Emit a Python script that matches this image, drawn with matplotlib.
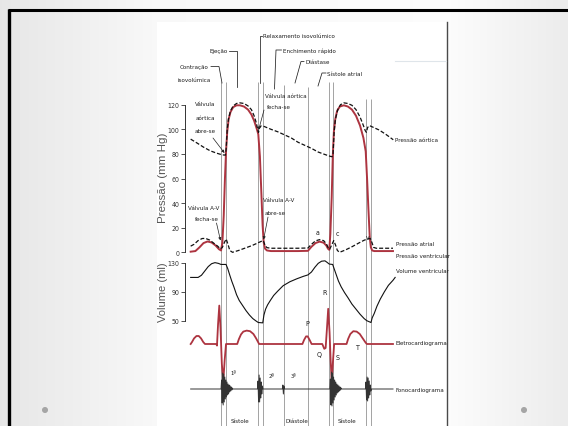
import numpy as np
import matplotlib
matplotlib.use("Agg")
import matplotlib.pyplot as plt
from matplotlib.patches import Rectangle, Circle
from matplotlib import font_manager as fm
from matplotlib.textpath import TextPath

# ---------------- data (time in seconds) ----------------
# ventricular pressure (mm Hg)
vp_t = [0.005, 0.040, 0.070, 0.100, 0.130, 0.160, 0.190, 0.215, 0.230, 0.240, 0.250, 0.259, 0.267,
        0.276, 0.286, 0.300, 0.320, 0.345, 0.370, 0.400, 0.430, 0.455, 0.475, 0.493, 0.506, 0.518,
        0.530, 0.538, 0.546, 0.556, 0.570, 0.600, 0.700, 0.800, 0.874, 0.900, 0.930, 0.960, 0.990,
        1.010, 1.022, 1.032, 1.040, 1.050, 1.058, 1.066, 1.076, 1.090, 1.110, 1.140, 1.170, 1.200,
        1.230, 1.260, 1.285, 1.302, 1.312, 1.322, 1.332, 1.340, 1.350, 1.365, 1.504]
vp_p = [0.5, 1, 4, 7.5, 8.8, 8, 5.5, 2.5, 1.5, 8, 30, 60, 82,
        98, 108, 114, 118, 119.5, 119.5, 118.5, 116, 112, 107, 101, 96, 78,
        45, 22, 8, 3, 1.5, 1, 1, 1, 1.2, 4.5, 7.5, 8.7, 7.8,
        5.5, 3, 2, 15, 45, 78, 98, 108, 115, 118.5, 119.5, 118.5, 116,
        111, 103, 93, 82, 60, 35, 12, 4, 1.5, 1, 1]

# aortic pressure (mm Hg)
ao_t = [0.005, 0.050, 0.100, 0.150, 0.200, 0.240, 0.262, 0.268, 0.276, 0.286, 0.300, 0.320, 0.345,
        0.370, 0.400, 0.430, 0.455, 0.475, 0.492, 0.503, 0.508, 0.515, 0.525, 0.545, 0.600, 0.650,
        0.700, 0.750, 0.800, 0.850, 0.900, 0.950, 1.000, 1.040, 1.052, 1.060, 1.068, 1.078, 1.095,
        1.115, 1.140, 1.170, 1.200, 1.230, 1.260, 1.285, 1.298, 1.307, 1.316, 1.330, 1.350, 1.400,
        1.450, 1.506]
ao_p = [92, 89, 85.5, 82.5, 80.5, 79.2, 79, 84, 100, 109, 115, 119, 121,
        121.5, 121, 119, 116, 111, 105, 99, 97.5, 101.5, 102.7, 102.5, 100, 98,
        95.5, 93, 89.5, 87, 84.5, 81.5, 79.5, 78, 77.7, 80, 98, 108.5, 116,
        120, 121.5, 121, 119.5, 116, 110, 103, 99, 97.5, 101.5, 103, 102, 99.5,
        96, 91.5]

# atrial pressure (mm Hg)
at_t = [0.005, 0.030, 0.060, 0.090, 0.115, 0.145, 0.175, 0.205, 0.225, 0.240, 0.255, 0.268, 0.280,
        0.295, 0.315, 0.360, 0.410, 0.460, 0.500, 0.530, 0.543, 0.555, 0.570, 0.600, 0.700, 0.800,
        0.874, 0.900, 0.930, 0.960, 0.990, 1.010, 1.025, 1.035, 1.050, 1.065, 1.078, 1.092, 1.108,
        1.150, 1.200, 1.250, 1.290, 1.320, 1.335, 1.348, 1.360, 1.380, 1.504]
at_p = [5, 6.5, 9.5, 11.2, 11.3, 10, 7.5, 5, 2.8, 4, 8, 10.8, 7,
        1.5, 0, 1.5, 3.5, 5.5, 7.5, 9, 9.5, 6, 3.8, 3.3, 3.3, 3.3,
        3.5, 6.5, 9.3, 10.3, 9.5, 7, 3.5, 2.5, 6, 9.5, 6, 1.5, 0,
        1.8, 4.5, 7.5, 9.8, 11, 11.3, 8, 4, 3.3, 3.3]

# ventricular volume (ml)
vol_t = [0.005, 0.060, 0.085, 0.110, 0.135, 0.160, 0.185, 0.210, 0.230, 0.267, 0.280, 0.295, 0.310,
         0.325, 0.345, 0.365, 0.390, 0.415, 0.440, 0.465, 0.490, 0.506, 0.539, 0.548, 0.560, 0.575,
         0.595, 0.620, 0.650, 0.690, 0.740, 0.790, 0.840, 0.874, 0.900, 0.925, 0.950, 0.975, 1.000,
         1.015, 1.032, 1.057, 1.070, 1.085, 1.100, 1.120, 1.145, 1.170, 1.200, 1.230, 1.260, 1.290,
         1.310, 1.341, 1.350, 1.365, 1.385, 1.410, 1.440, 1.470, 1.504, 1.520]
vol_v = [110, 110, 113, 119, 125, 129, 130.5, 129.5, 128, 128, 122, 113, 104.5,
         97, 86, 78, 71, 64, 58, 53, 49.5, 47.5, 47, 58, 66, 72,
         78, 85, 91, 98.5, 104, 108, 111.5, 113.5, 117.5, 124, 129.5, 132.5, 133,
         131, 128.5, 128, 121, 113, 105, 97, 89, 82, 73, 66, 59, 53,
         50, 47.5, 54, 60, 70, 80, 90, 99, 106, 110]

# electrocardiogram (mV)
ecg_t = [0.005, 0.015, 0.030, 0.048, 0.065, 0.082, 0.098, 0.111, 0.195, 0.200, 0.208, 0.217, 0.226,
         0.236, 0.247, 0.257, 0.267, 0.350, 0.362, 0.378, 0.395, 0.420, 0.445, 0.470, 0.490, 0.512,
         0.833, 0.845, 0.860, 0.872, 0.888, 0.901, 0.980, 0.995, 1.005, 1.014, 1.024, 1.034, 1.042,
         1.050, 1.059, 1.068, 1.160, 1.172, 1.188, 1.210, 1.235, 1.258, 1.280, 1.300, 1.310, 1.504]
ecg_mv = [0, 0.05, 0.14, 0.2, 0.2, 0.14, 0.05, 0, 0, -0.04, 0.5, 0.96, 0.4,
          -0.5, -0.92, -0.4, 0, 0, 0.12, 0.24, 0.31, 0.335, 0.32, 0.25, 0.14, 0,
          0, 0.1, 0.19, 0.19, 0.09, 0, 0, -0.12, -0.1, 0.35, 0.88, 0.3, -0.4,
          -0.96, -0.45, 0, 0, 0.13, 0.25, 0.32, 0.31, 0.25, 0.14, 0.04, 0, 0]

# phonocardiogram (arbitrary units): heart sounds
s1a_t = [0.230, 0.234, 0.238, 0.242, 0.246, 0.250, 0.254, 0.258, 0.262, 0.266, 0.270, 0.274, 0.278,
         0.282, 0.286, 0.290, 0.294, 0.298, 0.302, 0.306, 0.310, 0.314, 0.318]
s1a_a = [0, 9, -14, 16, -16, 15, -13, 12, -10, 9, -8, 7, -6, 5, -5, 4, -3, 3, -2, 2, -1, 1, 0]
s2a_t = [0.500, 0.504, 0.508, 0.512, 0.516, 0.520, 0.524, 0.528, 0.532, 0.536, 0.540]
s2a_a = [0, 8, -13, 14, -13, 11, -9, 7, -5, 3, 0]
s3a_t = [0.684, 0.688, 0.692, 0.696, 0.700]
s3a_a = [0, 4, -5, 3, 0]
s1b_t = [1.036, 1.040, 1.044, 1.048, 1.052, 1.056, 1.060, 1.064, 1.068, 1.072, 1.076, 1.080, 1.084,
         1.088, 1.092, 1.096, 1.100, 1.104, 1.108, 1.112, 1.116, 1.120, 1.124]
s1b_a = [0, 10, -16, 17, -17, 16, -14, 12, -11, 9, -8, 7, -6, 5, -4, 4, -3, 3, -2, 2, -1, 1, 0]
s2b_t = [1.300, 1.304, 1.308, 1.312, 1.316, 1.320, 1.324, 1.328, 1.332, 1.336, 1.340, 1.344]
s2b_a = [0, 7, -11, 12, -12, 11, -9, 8, -6, 4, -2, 0]
phono_start, phono_end = 0.005, 1.504

# cycle event lines (s)
event_t = [0.230, 0.267, 0.506, 0.539, 0.698, 0.874, 1.032, 1.057, 1.302, 1.341]

pressure_ticks = [0, 20, 40, 60, 80, 100, 120]
volume_ticks = [50, 90, 130]

# ---------------- fonts ----------------
_names = {f.name for f in fm.fontManager.ttflist}
_dv_cond = any(f.name == 'DejaVu Sans' and 'condensed' in str(f.stretch) for f in fm.fontManager.ttflist)
if 'Liberation Sans Narrow' in _names:
    FAM, STR = 'Liberation Sans Narrow', 'normal'
elif _dv_cond:
    FAM, STR = 'DejaVu Sans', 'condensed'
else:
    FAM, STR = 'Liberation Sans', 'normal'
plt.rcParams['font.family'] = [FAM, 'DejaVu Sans']
plt.rcParams['font.stretch'] = STR
_fp = fm.FontProperties(family=[FAM, 'DejaVu Sans'], stretch=STR)


def size_for(s, px, prop=_fp):
    w = TextPath((0, 0), s, size=10, prop=prop).get_extents().width
    return 10 * px / (w * 100 / 72)


FS = min(5.4, size_for('Relaxamento isovolúmico', 71))
TS = min(5.8, size_for('120', 11))
_fp_reg = fm.FontProperties(family=['Liberation Sans', 'DejaVu Sans'])
AS = size_for('Pressão (mm Hg)', 88, _fp_reg)

# ---------------- layout helpers ----------------
W, H = 568, 427
fig = plt.figure(figsize=(W / 100, H / 100), dpi=100)


def box(x0, y0, x1, y1):
    return [x0 / W, 1 - y1 / H, (x1 - x0) / W, (y1 - y0) / H]


T_LIM = (-0.037, 1.556)
RED = '#ad3440'
INK = '#1e1e1e'

# ---- slide background ----
bg = fig.add_axes([0, 0, 1, 1])
grad = np.interp(np.arange(W), [0, 157, 447, 568], [0.905, 0.975, 0.99, 0.925])
img = np.dstack([np.tile(grad, (H, 1))] * 3)
bg.imshow(img, extent=[0, W, H, 0], aspect='auto', interpolation='bilinear')
bg.set_xlim(0, W); bg.set_ylim(H, 0); bg.axis('off')
bg.add_patch(Rectangle((157, 23), 290, 410, facecolor='white', edgecolor='none'))
bg.plot([447, 447], [23, 427], color='#4a4a4a', lw=1.0)
bg.plot([395, 446], [62, 62], color='#dfe5ea', lw=0.8)
bg.plot([8, 568], [11, 11], color='black', lw=2.2, solid_capstyle='butt')
bg.plot([9, 9], [10, 427], color='black', lw=2.4, solid_capstyle='butt')
bg.add_patch(Circle((45, 411), 2.3, color='#a5a5a5'))
bg.add_patch(Circle((524, 411), 2.3, color='#a5a5a5'))

# ---- event lines ----
event_top = [83, 83, 83, 83, 86, 88, 83, 83, 100, 100]
ev = fig.add_axes(box(185, 0, 400, 427))
ev.patch.set_visible(False)
ev.set_xlim(*T_LIM); ev.set_ylim(427, 0); ev.axis('off')
ev.vlines(event_t, event_top, 427, color='#8a8a8a', lw=0.55)


def style_axis(ax, ticks):
    ax.patch.set_visible(False)
    for s in ['top', 'right', 'bottom']:
        ax.spines[s].set_visible(False)
    ax.spines['left'].set_color('#333333')
    ax.spines['left'].set_linewidth(0.7)
    ax.set_xticks([])
    ax.set_yticks(ticks)
    ax.tick_params(axis='y', direction='out', length=3, width=0.6, pad=1,
                   labelsize=TS, colors='#333333')


# ---- pressure ----
ap = fig.add_axes(box(185, 105.7, 400, 253.3))
ap.set_xlim(*T_LIM); ap.set_ylim(0, 120)
style_axis(ap, pressure_ticks)
ap.plot(vp_t, vp_p, color=RED, lw=1.4, clip_on=False, solid_joinstyle='round', zorder=3)
ap.plot(ao_t, ao_p, color='#111111', lw=0.9, ls=(0, (3.2, 1.6)), clip_on=False, zorder=4)
ap.plot(at_t, at_p, color='#111111', lw=0.9, ls=(0, (3.2, 1.6)), clip_on=False, zorder=4)

# ---- volume ----
av = fig.add_axes(box(185, 264, 400, 321.7))
av.set_xlim(*T_LIM); av.set_ylim(50, 130)
style_axis(av, volume_ticks)
av.plot(vol_t, vol_v, color='#111111', lw=0.8, clip_on=False)

# ---- ECG ----
ae = fig.add_axes(box(185, 305, 400, 385))
ae.patch.set_visible(False)
ae.set_xlim(*T_LIM); ae.set_ylim(-1, 1); ae.axis('off')
ae.plot(ecg_t, ecg_mv, color=RED, lw=1.3, clip_on=False, solid_joinstyle='round')

# ---- phonocardiogram ----
af = fig.add_axes(box(185, 370, 400, 410))
af.patch.set_visible(False)
af.set_xlim(*T_LIM); af.set_ylim(-20, 20); af.axis('off')
ph_t = [phono_start] + s1a_t + s2a_t + s3a_t + s1b_t + s2b_t + [phono_end]
ph_a = [0] + s1a_a + s2a_a + s3a_a + s1b_a + s2b_a + [0]
af.plot(ph_t, ph_a, color='#333333', lw=0.7, clip_on=False)

# ---- text overlay ----
tx = fig.add_axes([0, 0, 1, 1])
tx.patch.set_visible(False)
tx.set_xlim(0, W); tx.set_ylim(H, 0); tx.axis('off')


def t(x, y, s, ha='left', fs=None, **kw):
    tx.text(x, y, s, ha=ha, va='center', fontsize=fs or FS, color=INK, **kw)


def leader(xs, ys):
    tx.plot(xs, ys, color=INK, lw=0.55)


def arrow(x0, y0, x1, y1):
    tx.annotate('', xy=(x1, y1), xytext=(x0, y0),
                arrowprops=dict(arrowstyle='-|>', lw=0.5, color=INK,
                                mutation_scale=4, shrinkA=0, shrinkB=0))


# phase labels at top
t(194, 67.5, 'Contração', ha='center')
t(194, 80, 'isovolúmica', ha='center')
leader([211, 219, 222], [67.5, 67.5, 84])
t(227.5, 51.5, 'Ejeção', ha='right')
leader([229, 236.5, 236.5], [51.5, 51.5, 88])
t(263, 37, 'Relaxamento isovolúmico')
leader([262, 260, 260], [37, 37, 84])
t(283, 51, 'Enchimento rápido')
leader([281.5, 276, 274.5], [51, 51, 90])
t(305, 62.5, 'Diástase')
leader([304, 301, 295], [62.5, 62.5, 84])
t(327, 74, 'Sístole atrial')
leader([326, 322, 318], [74, 74, 87])

# valve annotations
t(205, 105, 'Válvula', ha='center')
t(205, 118.5, 'aórtica', ha='center')
t(205, 131.5, 'abre-se', ha='center')
arrow(213, 139, 224.5, 154)
t(265, 96.5, 'Válvula aórtica')
t(267, 107.5, 'fecha-se')
arrow(264, 111, 258.6, 131)
t(204, 208.5, 'Válvula A-V', ha='center')
t(207, 220, 'fecha-se', ha='center')
arrow(216.5, 224, 220.5, 241.5)
t(263, 201, 'Válvula A-V')
t(265, 213.5, 'abre-se')
arrow(268, 218, 263.6, 240.5)
t(318, 233.5, 'a', ha='center', fs=FS * 1.1)
t(337, 234, 'c', ha='center', fs=FS * 1.1)
t(367.5, 238, 'v', ha='center', fs=FS * 1.1)

# right labels
t(395, 141, 'Pressão aórtica')
t(395.5, 245, 'Pressão atrial')
t(395.5, 256.5, 'Pressão ventricular')
t(396, 271.5, 'Volume ventricular')
t(395.5, 344, 'Eletrocardiograma')
t(395.5, 390.5, 'Fonocardiograma')

# ECG wave labels
t(307.3, 324, 'P', ha='center', fs=FS * 1.15)
t(325, 292.7, 'R', ha='center', fs=FS * 1.15)
t(319.3, 355, 'Q', ha='center', fs=FS * 1.15)
t(337.3, 358.5, 'S', ha='center', fs=FS * 1.15)
t(357.3, 348.3, 'T', ha='center', fs=FS * 1.15)

# heart sounds
t(233.5, 373.5, '1ª', ha='center', fs=FS * 0.95)
t(271, 376.5, '2ª', ha='center', fs=FS * 0.95)
t(293, 376.5, '3ª', ha='center', fs=FS * 0.95)

# bottom phase labels
t(240, 421.5, 'Sístole', ha='center')
t(296.7, 421.5, 'Diástole', ha='center')
t(346.7, 421.5, 'Sístole', ha='center')

# axis titles
tx.text(163.5, 178, 'Pressão (mm Hg)', rotation=90, ha='center', va='center',
        fontsize=AS, color='#555555', family=['Liberation Sans', 'DejaVu Sans'], stretch='normal')
tx.text(163.5, 292, 'Volume (ml)', rotation=90, ha='center', va='center',
        fontsize=AS * 0.97, color='#555555', family=['Liberation Sans', 'DejaVu Sans'], stretch='normal')

fig.savefig('out.png', dpi=100)
